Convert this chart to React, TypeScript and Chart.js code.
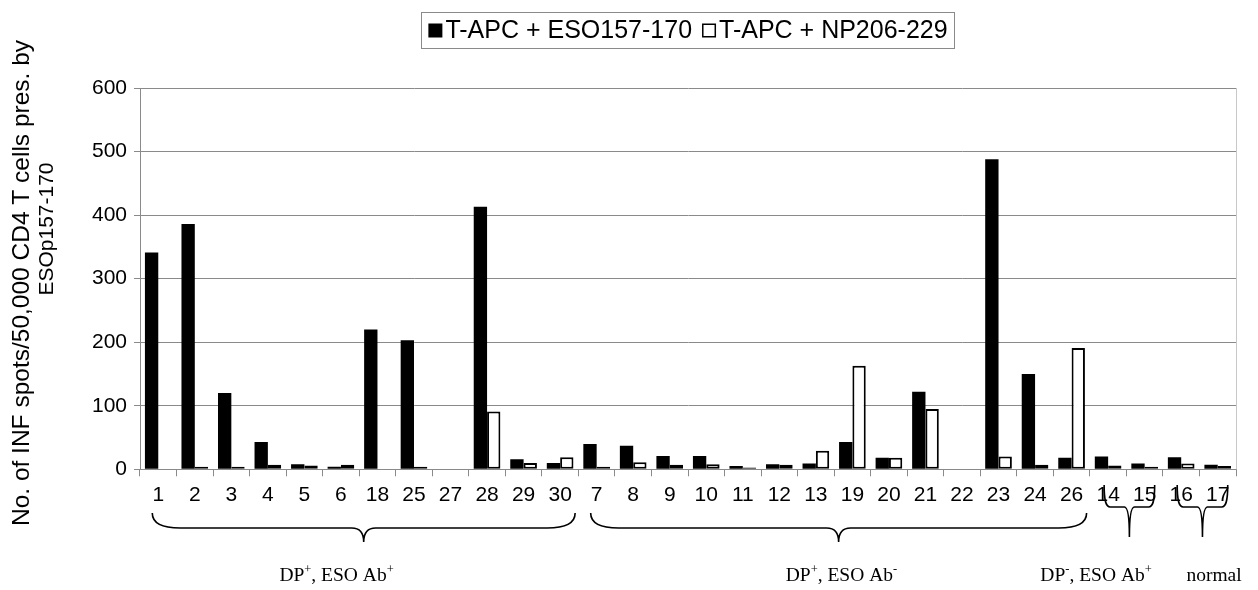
import React, { useEffect, useRef } from 'react';
import { Chart, registerables } from 'chart.js';

Chart.register(...registerables);

const categories = ['1', '2', '3', '4', '5', '6', '18', '25', '27', '28', '29', '30', '7', '8', '9', '10', '11', '12', '13', '19', '20', '21', '22', '23', '24', '26', '14', '15', '16', '17'];
const esoValues = [341, 386, 120, 43, 8, 4, 220, 203, 0, 413, 16, 10, 40, 37, 21, 21, 5, 8, 9, 43, 18, 122, 0, 488, 150, 18, 20, 9, 19, 7];
const npValues = [0, 4, 4, 7, 6, 7, 0, 4, 0, 91, 10, 19, 4, 11, 7, 8, 3, 7, 29, 163, 18, 95, 0, 20, 7, 191, 6, 4, 9, 5];
const seriesLabels = ['T-APC + ESO157-170', 'T-APC + NP206-229'];
const yMin = 0;
const yMax = 600;
const yStep = 100;
const yTitleLines = ['No. of INF spots/50,000 CD4 T cells pres. by', 'ESOp157-170'];
const groupRanges = [[0, 11], [12, 25], [26, 27], [28, 29]];
const groupLabels: [string, boolean][][] = [
  [['DP', false], ['+', true], [', ESO Ab', false], ['+', true]],
  [['DP', false], ['+', true], [', ESO Ab', false], ['-', true]],
  [['DP', false], ['-', true], [', ESO Ab', false], ['+', true]],
  [['normal', false]],
];

const SANS = '"Liberation Sans", Arial, sans-serif';
const SERIF = '"Liberation Serif", "Times New Roman", serif';

const annotations = {
  id: 'annotations',
  afterDraw(chart: any) {
    const ctx = chart.ctx;
    const area = chart.chartArea;
    const n = categories.length;
    const cw = (area.right - area.left) / n;
    const cx = (i: number) => area.left + (i + 0.5) * cw;
    ctx.save();

    // plot area right border
    ctx.strokeStyle = '#c8c8c8';
    ctx.lineWidth = 1;
    ctx.beginPath();
    ctx.moveTo(Math.round(area.right) + 0.5, area.top);
    ctx.lineTo(Math.round(area.right) + 0.5, area.bottom);
    ctx.stroke();

    // y axis title (two lines)
    ctx.fillStyle = '#000';
    ctx.textAlign = 'center';
    ctx.textBaseline = 'middle';
    ctx.save();
    ctx.font = `24.5px ${SANS}`;
    ctx.translate(22, 283);
    ctx.rotate(-Math.PI / 2);
    ctx.fillText(yTitleLines[0], 0, 0);
    ctx.restore();
    ctx.save();
    ctx.font = `21px ${SANS}`;
    ctx.translate(47, 229);
    ctx.rotate(-Math.PI / 2);
    ctx.fillText(yTitleLines[1], 0, 0);
    ctx.restore();

    // legend
    ctx.font = `25px ${SANS}`;
    const sq = 14;
    const gap = 3;
    const between = 10;
    const w1 = ctx.measureText(chart.data.datasets[0].label).width;
    const w2 = ctx.measureText(chart.data.datasets[1].label).width;
    const inner = sq + gap + w1 + between + sq + gap + w2;
    const padX = 7;
    const boxW = inner + padX * 2;
    const boxL = 688 - boxW / 2;
    const boxT = 12.5;
    const boxH = 36;
    ctx.strokeStyle = '#8a8a8a';
    ctx.lineWidth = 1;
    ctx.strokeRect(Math.round(boxL) + 0.5, boxT, Math.round(boxW), boxH);
    const midY = boxT + boxH / 2;
    let x = boxL + padX;
    ctx.fillStyle = '#000';
    ctx.fillRect(x, midY - sq / 2, sq, sq);
    x += sq + gap;
    ctx.textAlign = 'left';
    ctx.fillText(chart.data.datasets[0].label, x, midY + 1);
    x += w1 + between;
    ctx.strokeStyle = '#000';
    ctx.lineWidth = 1.5;
    ctx.fillStyle = '#fff';
    ctx.fillRect(x, midY - sq / 2, sq, sq);
    ctx.strokeRect(x + 0.75, midY - sq / 2 + 0.75, sq - 1.5, sq - 1.5);
    x += sq + gap;
    ctx.fillStyle = '#000';
    ctx.fillText(chart.data.datasets[1].label, x, midY + 1);

    // braces under groups
    ctx.strokeStyle = '#000';
    ctx.lineWidth = 1.6;
    groupRanges.forEach(([a, b]) => {
      const small = b - a < 3;
      const x1 = cx(a) - (small ? 4 : 6);
      const x2 = cx(b) + (small ? 10 : 15);
      const mid = (x1 + x2) / 2;
      const y0 = small ? 485 : 513;
      const yM = small ? 507 : 528;
      const yT = small ? 537 : 542;
      const r = small ? 6 : 28;
      const rt = small ? 5 : 12;
      ctx.beginPath();
      ctx.moveTo(x1, y0);
      ctx.bezierCurveTo(x1, yM - 4, x1 + r * 0.4, yM, x1 + r, yM);
      ctx.lineTo(mid - rt, yM);
      ctx.quadraticCurveTo(mid, yM, mid, yT);
      ctx.quadraticCurveTo(mid, yM, mid + rt, yM);
      ctx.lineTo(x2 - r, yM);
      ctx.bezierCurveTo(x2 - r * 0.4, yM, x2, yM - 4, x2, y0);
      ctx.stroke();
    });

    // group labels with superscripts
    const labelCenters = [4.88, 18.7, 25.67, 28.9];
    const base = 19.5;
    const supSize = 12.5;
    groupLabels.forEach((parts, gi) => {
      let total = 0;
      parts.forEach(([t, sup]) => {
        ctx.font = `${sup ? supSize : base}px ${SERIF}`;
        total += ctx.measureText(t).width;
      });
      let px = cx(labelCenters[gi]) - total / 2;
      ctx.textAlign = 'left';
      ctx.textBaseline = 'alphabetic';
      ctx.fillStyle = '#000';
      parts.forEach(([t, sup]) => {
        ctx.font = `${sup ? supSize : base}px ${SERIF}`;
        ctx.fillText(t, px, sup ? 573 : 581);
        px += ctx.measureText(t).width;
      });
    });
    ctx.restore();
  },
};

export default function App() {
  const ref = useRef<HTMLCanvasElement | null>(null);
  useEffect(() => {
    document.body.style.margin = '0';
    const canvas = ref.current;
    if (!canvas) return;
    const chart = new Chart(canvas, {
      type: 'bar',
      data: {
        labels: categories,
        datasets: [
          {
            label: seriesLabels[0],
            data: esoValues,
            backgroundColor: '#000',
            borderColor: '#000',
            borderWidth: 0,
            categoryPercentage: 0.73,
            barPercentage: 1.0,
          },
          {
            label: seriesLabels[1],
            data: npValues,
            backgroundColor: '#fff',
            borderColor: '#000',
            borderWidth: 2,
            borderSkipped: false,
            categoryPercentage: 0.73,
            barPercentage: 1.0,
          },
        ],
      },
      options: {
        responsive: false,
        animation: false,
        devicePixelRatio: 1,
        layout: { padding: { top: 88, right: 22, left: 0, bottom: 0 } },
        plugins: {
          legend: { display: false },
          tooltip: { enabled: false },
          title: { display: false },
        },
        scales: {
          x: {
            afterFit: (s: any) => { s.height = 120.7; },
            grid: {
              offset: true,
              drawOnChartArea: false,
              drawTicks: true,
              tickLength: 7,
              color: '#8a8a8a',
            },
            border: { color: '#8a8a8a' },
            ticks: {
              autoSkip: false,
              maxRotation: 0,
              color: '#000',
              padding: 6,
              font: { family: SANS, size: 21 },
            },
          },
          y: {
            min: yMin,
            max: yMax,
            afterFit: (s: any) => { s.width = 140; },
            grid: {
              color: '#8a8a8a',
              tickLength: 6,
            },
            border: { color: '#8a8a8a' },
            ticks: {
              stepSize: yStep,
              color: '#000',
              padding: 7,
              font: { family: SANS, size: 21 },
            },
          },
        },
      },
      plugins: [annotations],
    });
    return () => chart.destroy();
  }, []);
  return <canvas ref={ref} width={1258} height={590} style={{ display: 'block' }} />;
}
